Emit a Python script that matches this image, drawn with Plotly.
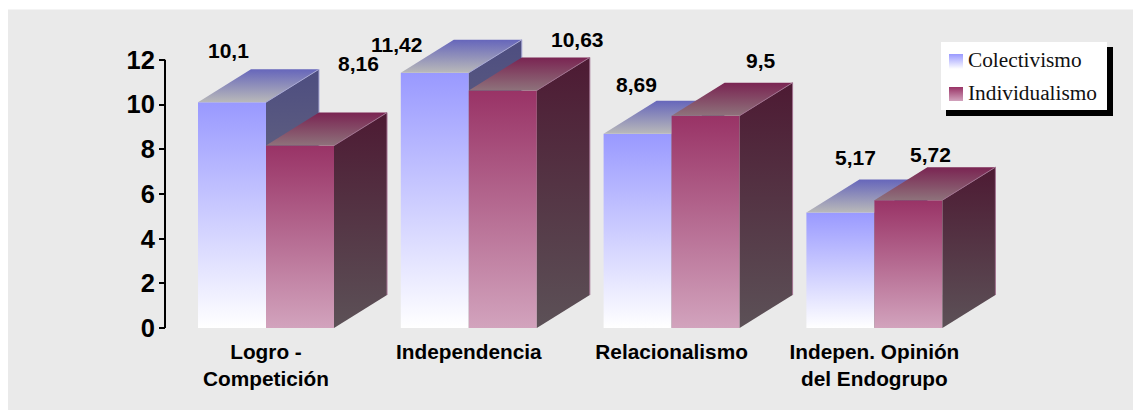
import plotly.graph_objects as go

# ---- data ----
categories = ["Logro -<br>Competición", "Independencia", "Relacionalismo", "Indepen. Opinión<br>del Endogrupo"]
colectivismo = [10.1, 11.42, 8.69, 5.17]
individualismo = [8.16, 10.63, 9.5, 5.72]
y_ticks = [0, 2, 4, 6, 8, 10, 12]
series_names = ["Colectivismo", "Individualismo"]

# ---- layout constants ----
W, H = 1133, 410
Y0_PX, UNIT_PX = 328.0, 22.35
X0_PX, GROUP_PX = 198.0, 202.8
BAR = 68 / GROUP_PX
DX = 53 / GROUP_PX
DY = 33 / UNIT_PX
AXIS_X_PX = 165

STYLE = {
    "Colectivismo": dict(front=("#9999FF", "#FFFFFF"), top=("#6666BB", "#B9B9B9"),
                         side=("#4D4D80", "#808080"), edge="#A9A9D6"),
    "Individualismo": dict(front=("#993366", "#D2A3BD"), top=("#7A2452", "#8E727B"),
                           side=("#4D1A33", "#5C5157"), edge="#A27190"),
}
# pixel offsets of the value labels from the centre of each bar's front top edge
OFF_C = [(-4, -52), (-38, -28), (-1, -49), (15, -55)]
OFF_I = [(58, -82), (75, -51), (55, -55), (22, -46)]
# legend swatches, in pixels: left, right, top, bottom
SWATCHES = [(949, 963, 54, 69), (949, 963, 87, 101)]
LEGEND_TEXT_X, LEGEND_TEXT_Y = 968, [60, 93]


def px_x(p):
    return (p - X0_PX) / GROUP_PX


def px_y(p):
    return (Y0_PX - p) / UNIT_PX


fig = go.Figure()


def face(xs, ys, colors, name=None):
    fig.add_trace(go.Scatter(
        x=xs, y=ys, mode="lines", fill="toself", line=dict(width=0),
        fillgradient=dict(type="vertical", colorscale=[[0, colors[1]], [1, colors[0]]]),
        hoverinfo="skip", name=name, showlegend=False,
    ))


def bar(i, off, v, name):
    s = STYLE[name]
    x0, x1 = i + off, i + off + BAR
    face([x0, x1, x1, x0], [0, 0, v, v], s["front"], name)
    face([x0, x1, x1 + DX, x0 + DX], [v, v, v + DY, v + DY], s["top"])
    face([x1, x1 + DX, x1 + DX, x1], [0, DY, v + DY, v], s["side"])
    fig.add_trace(go.Scatter(
        x=[x1, x1 + DX, x1 + DX], y=[v, v + DY, DY], mode="lines",
        line=dict(color=s["edge"], width=1), hoverinfo="skip", showlegend=False,
    ))


for i in range(len(categories)):
    bar(i, 0, colectivismo[i], series_names[0])
    bar(i, BAR, individualismo[i], series_names[1])

ann = []
for i in range(len(categories)):
    for v, off, (dx, dy) in ((colectivismo[i], 0, OFF_C[i]), (individualismo[i], BAR, OFF_I[i])):
        ann.append(dict(x=i + off + BAR / 2, y=v, text=str(v).replace(".", ","), showarrow=False,
                        xshift=dx, yshift=-dy,
                        font=dict(family="Liberation Sans", size=21, color="black", weight="bold"),
                        xanchor="center", yanchor="middle"))

# hand-built legend (square swatches, serif text, drop shadow)
for name, (l, r, t, b), ty in zip(series_names, SWATCHES, LEGEND_TEXT_Y):
    face([px_x(l), px_x(r), px_x(r), px_x(l)], [px_y(b), px_y(b), px_y(t), px_y(t)], STYLE[name]["front"], name)
    ann.append(dict(xref="paper", yref="paper", x=LEGEND_TEXT_X / W, y=1 - ty / H, text=name, showarrow=False,
                    xanchor="left", yanchor="middle", xshift=-2,
                    font=dict(family="Liberation Serif", size=21.3, color="#111")))

shapes = [
    dict(type="rect", xref="paper", yref="paper", x0=8 / W, x1=1, y0=0, y1=1 - 9.5 / H,
         fillcolor="#EAEAEA", line_width=0, layer="below"),
    dict(type="rect", xref="paper", yref="paper", x0=946 / W, x1=1113 / W, y0=1 - 116 / H, y1=1 - 47 / H,
         fillcolor="black", line_width=0, layer="below"),
    dict(type="rect", xref="paper", yref="paper", x0=941 / W, x1=1107 / W, y0=1 - 110 / H, y1=1 - 42 / H,
         fillcolor="white", line_width=0, layer="below"),
    dict(type="line", xref="paper", yref="y", x0=AXIS_X_PX / W, x1=AXIS_X_PX / W, y0=0, y1=12,
         line=dict(color="black", width=2)),
]

fig.update_layout(
    width=W, height=H, margin=dict(l=0, r=0, t=0, b=0),
    paper_bgcolor="white", plot_bgcolor="rgba(0,0,0,0)",
    showlegend=False, annotations=ann, shapes=shapes,
    xaxis=dict(range=[-X0_PX / GROUP_PX, (W - X0_PX) / GROUP_PX], domain=[0, 1], showgrid=False, zeroline=False,
               tickmode="array", tickvals=[i + BAR for i in range(len(categories))], ticktext=categories,
               ticks="", anchor="free", position=1 - 337 / H, showline=False,
               tickfont=dict(family="Liberation Sans", size=20.8, color="black", weight="bold")),
    yaxis=dict(range=[(Y0_PX - H) / UNIT_PX, Y0_PX / UNIT_PX], domain=[0, 1], showgrid=False, zeroline=False,
               tickmode="array", tickvals=y_ticks, ticks="outside", ticklen=6, tickwidth=2, tickcolor="black",
               anchor="free", position=AXIS_X_PX / W, showline=False, ticklabelstandoff=-1,
               tickfont=dict(family="Liberation Sans", size=25.5, color="black", weight="bold")),
)

fig.write_html("out.html", config=dict(displayModeBar=False),
               post_script="document.body.style.margin='0';document.documentElement.style.overflow='hidden';")
